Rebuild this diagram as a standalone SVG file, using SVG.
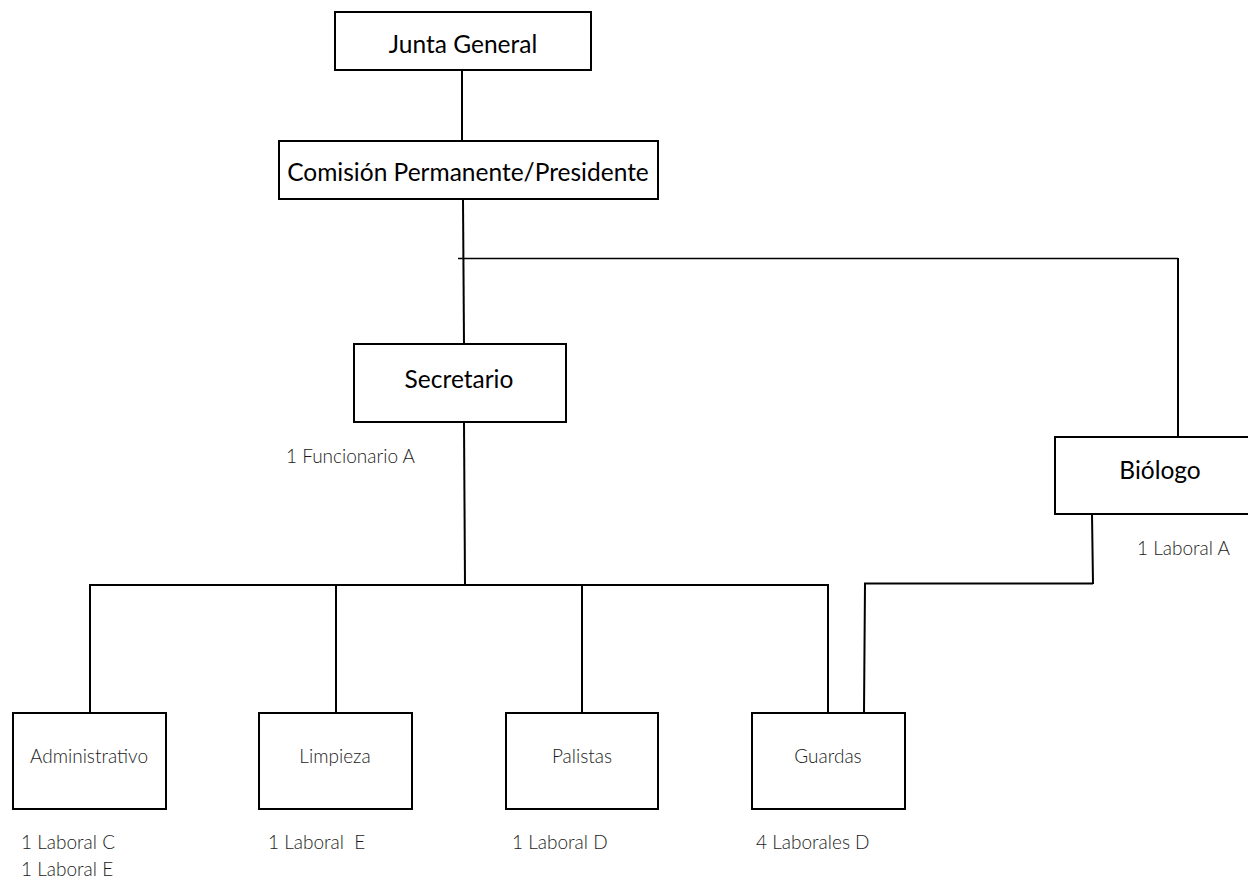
<svg xmlns="http://www.w3.org/2000/svg" width="1248" height="880" viewBox="0 0 1248 880">
<style>
.box{fill:#fff;stroke:#000;stroke-width:2}
.ln{fill:none;stroke:#000;stroke-width:2}
.thin{fill:none;stroke:#000;stroke-width:1.5}
.t1{font-family:Lato,"Liberation Sans",sans-serif;font-size:24.5px;fill:#000;text-anchor:middle}
.t2{font-family:Lato,"Liberation Sans",sans-serif;font-size:19px;font-weight:300;fill:#1a1a1a;text-anchor:middle}
.lb{font-family:Lato,"Liberation Sans",sans-serif;font-size:19px;font-weight:300;fill:#1a1a1a}
</style>
<rect width="1248" height="880" fill="#fff"/>
<g id="connectors">
<line class="ln" x1="462" y1="70" x2="462" y2="141"/>
<line class="ln" x1="463" y1="199" x2="464" y2="344"/>
<line class="thin" x1="458" y1="258.5" x2="1178" y2="258.5"/>
<line class="ln" x1="1178" y1="258" x2="1178" y2="437"/>
<line class="ln" x1="464" y1="422" x2="465" y2="585"/>
<polyline class="ln" points="90,713 90,585 828,585 828,713"/>
<line class="ln" x1="336" y1="585" x2="336" y2="713"/>
<line class="ln" x1="582" y1="585" x2="582" y2="713"/>
<line class="ln" x1="1092" y1="514" x2="1093" y2="584"/>
<polyline class="ln" points="1093,583.5 865,583.5 864,713"/>
</g>
<g id="junta"><rect class="box" x="335" y="12" width="256" height="58"/><text class="t1" x="463" y="53">Junta General</text></g>
<g id="comision"><rect class="box" x="279" y="141" width="379" height="58"/><text class="t1" x="468" y="181">Comisión Permanente/Presidente</text></g>
<g id="secretario"><rect class="box" x="354" y="344" width="212" height="78"/><text class="t1" x="459" y="388">Secretario</text><text class="lb" x="286" y="463">1 Funcionario A</text></g>
<g id="biologo"><rect class="box" x="1055" y="437" width="200" height="77"/><text class="t1" x="1160" y="479">Biólogo</text><text class="lb" x="1137" y="555">1 Laboral A</text></g>
<g id="administrativo"><rect class="box" x="13" y="713" width="153" height="96"/><text class="t2" x="89" y="763">Administrativo</text><text class="lb" x="21" y="849">1 Laboral C</text><text class="lb" x="21" y="876">1 Laboral E</text></g>
<g id="limpieza"><rect class="box" x="259" y="713" width="153" height="96"/><text class="t2" x="335" y="763">Limpieza</text><text class="lb" x="268" y="849" xml:space="preserve">1 Laboral  E</text></g>
<g id="palistas"><rect class="box" x="506" y="713" width="152" height="96"/><text class="t2" x="582" y="763">Palistas</text><text class="lb" x="512" y="849">1 Laboral D</text></g>
<g id="guardas"><rect class="box" x="752" y="713" width="153" height="96"/><text class="t2" x="828" y="763">Guardas</text><text class="lb" x="756" y="849">4 Laborales D</text></g>
</svg>
